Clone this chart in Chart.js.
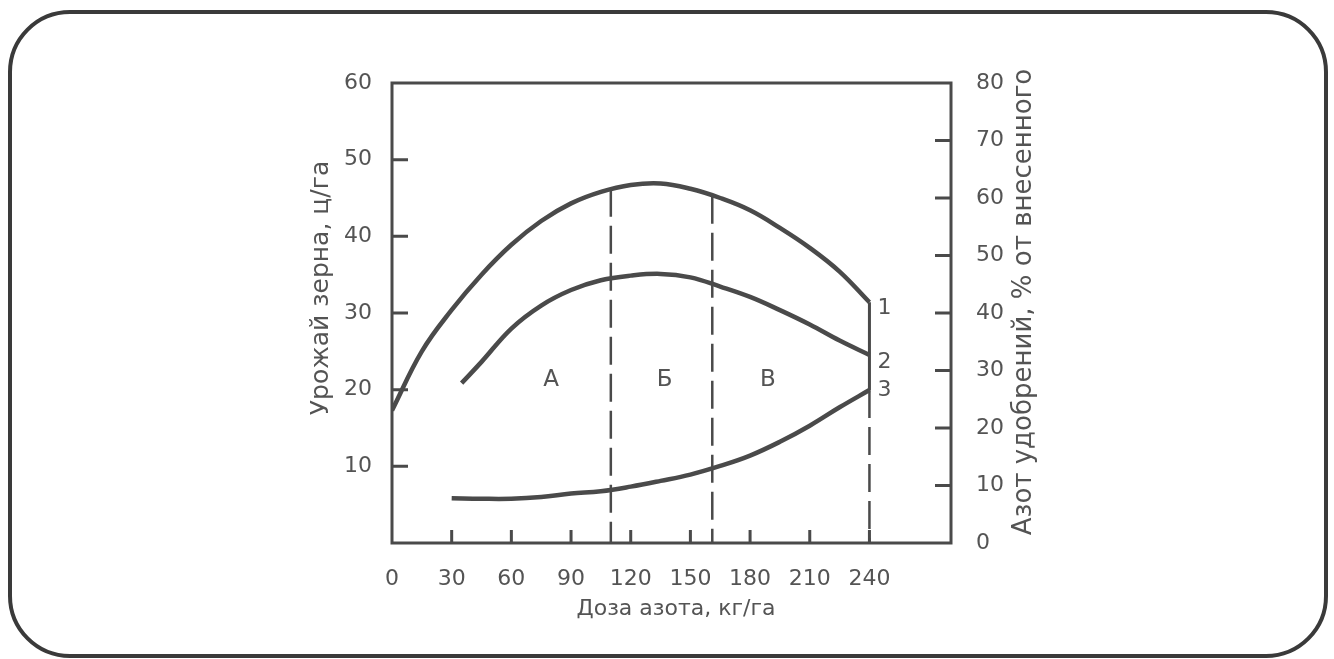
<!DOCTYPE html>
<html>
<head>
<meta charset="utf-8">
<script src="https://cdn.jsdelivr.net/npm/chart.js@4.4.0/dist/chart.umd.min.js"></script>
<style>
  html, body { margin: 0; padding: 0; background: #fff; }
  canvas { display: block; }
</style>
</head>
<body>
<canvas id="nitrogenChart" width="1334" height="659"></canvas>
<script>
// Curve 1 - grain yield, c/ha (left axis)
const doses1 = [0, 15, 30, 45, 60, 75, 90, 105, 120, 135, 150, 165, 180, 195, 210, 225, 240];
const yield1 = [17.3, 25.0, 30.4, 35.0, 38.9, 42.0, 44.3, 45.8, 46.7, 46.9, 46.2, 45.0, 43.4, 41.1, 38.5, 35.4, 31.4];

// Curves 2 and 3 - fertilizer nitrogen, % of applied (right axis)
const doses2 = [35, 45, 60, 75, 90, 105, 120, 135, 150, 165, 180, 195, 210, 225, 240];
const nitrogen2 = [27.8, 31.5, 37.3, 41.3, 44.0, 45.7, 46.5, 46.8, 46.2, 44.6, 42.8, 40.5, 38.0, 35.2, 32.7];
const doses3 = [30, 45, 60, 75, 90, 105, 120, 135, 150, 165, 180, 195, 210, 225, 240];
const nitrogen3 = [7.8, 7.7, 7.7, 8.0, 8.6, 9.0, 9.8, 10.8, 11.9, 13.4, 15.2, 17.6, 20.4, 23.6, 26.6];

// Axis ticks
const xTicks = [0, 30, 60, 90, 120, 150, 180, 210, 240];
const leftTicks = [10, 20, 30, 40, 50, 60];
const rightTicks = [0, 10, 20, 30, 40, 50, 60, 70, 80];

// Zone dividers (dose, top of the dashed line on the yield scale)
const dividerDoses = [110, 161];
const dividerTops = [46.2, 45.3];
const zoneNames = ['А', 'Б', 'В'];
const zoneDoses = [80, 137, 189];
const curveNames = ['1', '2', '3'];

const INK = '#4a4a4a';
const TEXT = '#545454';
const FONT = '"DejaVu Sans", sans-serif';

const pts = (xs, ys) => xs.map((x, i) => ({ x: x, y: ys[i] }));
const last = arr => arr[arr.length - 1];

const curveStyle = {
    borderColor: INK,
    borderWidth: 4.5,
    pointRadius: 0,
    tension: 0.4,
    fill: false
};
const dashStyle = {
    borderColor: INK,
    borderWidth: 2.5,
    borderDash: [28, 9],
    pointRadius: 0,
    fill: false
};

const datasets = [
    Object.assign({ label: '1', data: pts(doses1, yield1), yAxisID: 'y' }, curveStyle),
    Object.assign({ label: '2', data: pts(doses2, nitrogen2), yAxisID: 'y1' }, curveStyle),
    Object.assign({ label: '3', data: pts(doses3, nitrogen3), yAxisID: 'y1' }, curveStyle)
];

dividerDoses.forEach((d, i) => {
    datasets.push(Object.assign({
        label: 'div' + i,
        data: [{ x: d, y: dividerTops[i] }, { x: d, y: 0 }],
        yAxisID: 'y'
    }, dashStyle));
});

// end of the curves at 240: solid between 1 and 3, dashed below
datasets.push({
    label: 'end',
    data: [{ x: last(doses1), y: last(yield1) * 80 / 60 }, { x: last(doses3), y: last(nitrogen3) }],
    yAxisID: 'y1',
    borderColor: INK,
    borderWidth: 3,
    pointRadius: 0
});
datasets.push(Object.assign({
    label: 'endDash',
    data: [{ x: last(doses3), y: last(nitrogen3) }, { x: last(doses3), y: 0 }],
    yAxisID: 'y1'
}, dashStyle));

const decor = {
    id: 'decor',
    beforeDraw(chart) {
        const ctx = chart.ctx;
        ctx.save();
        ctx.fillStyle = '#fff';
        ctx.fillRect(0, 0, chart.width, chart.height);

        // rounded page frame
        const x = 10, y = 12, w = 1316, h = 644, r = 60;
        ctx.beginPath();
        ctx.moveTo(x + r, y);
        ctx.arcTo(x + w, y, x + w, y + h, r);
        ctx.arcTo(x + w, y + h, x, y + h, r);
        ctx.arcTo(x, y + h, x, y, r);
        ctx.arcTo(x, y, x + w, y, r);
        ctx.closePath();
        ctx.lineWidth = 4;
        ctx.strokeStyle = '#3a3a3a';
        ctx.stroke();
        ctx.restore();
    },
    beforeDatasetsDraw(chart) {
        const ctx = chart.ctx;
        const a = chart.chartArea;
        const sx = chart.scales.x, sy = chart.scales.y, sy1 = chart.scales.y1;
        ctx.save();
        ctx.strokeStyle = INK;
        ctx.lineWidth = 3;
        ctx.strokeRect(a.left, a.top, a.right - a.left, a.bottom - a.top);

        // inward tick marks
        ctx.beginPath();
        xTicks.forEach(v => {
            if (v === 0) return;
            const px = sx.getPixelForValue(v);
            ctx.moveTo(px, a.bottom);
            ctx.lineTo(px, a.bottom - 13);
        });
        leftTicks.forEach(v => {
            if (v >= sy.max) return;
            const py = sy.getPixelForValue(v);
            ctx.moveTo(a.left, py);
            ctx.lineTo(a.left + 16, py);
        });
        rightTicks.forEach(v => {
            if (v <= 0 || v >= sy1.max) return;
            const py = sy1.getPixelForValue(v);
            ctx.moveTo(a.right, py);
            ctx.lineTo(a.right - 16, py);
        });
        ctx.stroke();
        ctx.restore();
    },
    afterDatasetsDraw(chart) {
        const ctx = chart.ctx;
        const sx = chart.scales.x, sy = chart.scales.y, sy1 = chart.scales.y1;
        ctx.save();
        ctx.fillStyle = TEXT;
        ctx.textBaseline = 'middle';
        ctx.textAlign = 'center';

        // axis titles
        ctx.font = '25px ' + FONT;
        ctx.save();
        ctx.translate(321, 288);
        ctx.rotate(-Math.PI / 2);
        ctx.fillText('Урожай зерна, ц/га', 0, 0);
        ctx.restore();
        ctx.font = '26px ' + FONT;
        ctx.save();
        ctx.translate(1024, 302);
        ctx.rotate(-Math.PI / 2);
        ctx.fillText('Азот удобрений, % от внесенного', 0, 0);
        ctx.restore();
        ctx.font = '22px ' + FONT;
        ctx.fillText('Доза азота, кг/га', 676, 609);

        // zones А, Б, В
        ctx.font = '23px ' + FONT;
        zoneNames.forEach((t, i) => {
            ctx.fillText(t, sx.getPixelForValue(zoneDoses[i]), sy.getPixelForValue(21.3));
        });

        // curve numbers at the right end
        ctx.font = '22px ' + FONT;
        ctx.textAlign = 'left';
        const lx = sx.getPixelForValue(240) + 8;
        ctx.fillText(curveNames[0], lx, sy.getPixelForValue(last(yield1)) + 6);
        ctx.fillText(curveNames[1], lx, sy1.getPixelForValue(last(nitrogen2)) + 7);
        ctx.fillText(curveNames[2], lx, sy1.getPixelForValue(last(nitrogen3)));
        ctx.restore();
    }
};

const tickFont = { family: FONT, size: 22 };

new Chart(document.getElementById('nitrogenChart'), {
    type: 'line',
    data: { datasets: datasets },
    options: {
        responsive: false,
        animation: false,
        devicePixelRatio: 1,
        layout: { padding: { top: 83, left: 0, right: 0, bottom: 0 } },
        plugins: {
            legend: { display: false },
            tooltip: { enabled: false }
        },
        scales: {
            x: {
                type: 'linear',
                min: 0,
                max: 281,
                grid: { display: false },
                border: { display: false },
                afterBuildTicks: s => { s.ticks = xTicks.map(v => ({ value: v })); },
                afterFit: s => { s.height = 116; },
                ticks: { font: tickFont, color: TEXT, padding: 15, maxRotation: 0, autoSkip: false }
            },
            y: {
                position: 'left',
                min: 0,
                max: 60,
                grid: { display: false },
                border: { display: false },
                afterBuildTicks: s => { s.ticks = leftTicks.map(v => ({ value: v })); },
                afterFit: s => { s.width = 392; },
                ticks: { font: tickFont, color: TEXT, padding: 12, autoSkip: false }
            },
            y1: {
                position: 'right',
                min: 0,
                max: 80,
                grid: { display: false },
                border: { display: false },
                afterBuildTicks: s => { s.ticks = rightTicks.map(v => ({ value: v })); },
                afterFit: s => { s.width = 383; },
                ticks: { font: tickFont, color: TEXT, padding: 17, autoSkip: false }
            }
        }
    },
    plugins: [decor]
});
</script>
</body>
</html>
